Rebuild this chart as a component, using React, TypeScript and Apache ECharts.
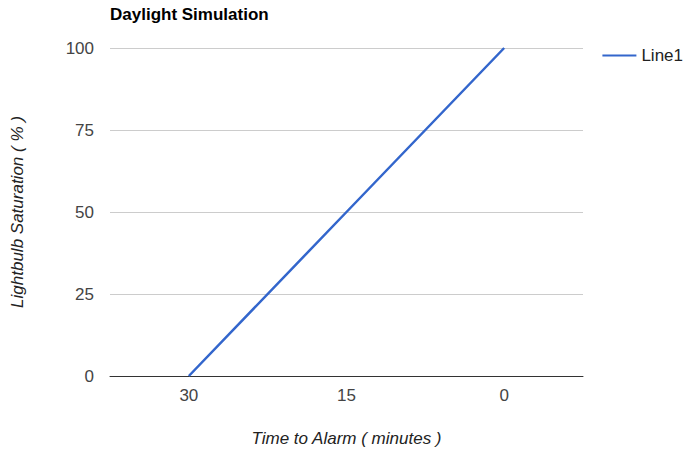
import React, { useEffect, useRef } from "react";
import * as echarts from "echarts";

const categories = ["30", "15", "0"];
const line1 = [0, 50, 100];
const yTicks = [0, 25, 50, 75, 100];

const FONT = "Liberation Sans, Arial, sans-serif";

export default function App() {
  const ref = useRef<HTMLDivElement>(null);
  useEffect(() => {
    const chart = echarts.init(ref.current!, null, { renderer: "svg" });
    chart.setOption({
      animation: false,
      backgroundColor: "#fff",
      textStyle: { fontFamily: FONT },
      title: {
        text: "Daylight Simulation",
        left: 110,
        top: 6,
        padding: 0,
        textStyle: { fontSize: 17, fontWeight: "bold", color: "#000", fontFamily: FONT },
      },
      legend: {
        data: ["Line1"],
        right: 3,
        top: 47,
        padding: 0,
        icon: "rect",
        itemWidth: 34,
        itemHeight: 2,
        itemGap: 6,
        textStyle: { fontSize: 17, color: "#222", fontFamily: FONT, overflow: "none" },
      },
      grid: { left: 110, right: 103, top: 48, bottom: 77 },
      xAxis: {
        type: "category",
        data: categories,
        boundaryGap: true,
        name: "Time to Alarm ( minutes )",
        nameLocation: "middle",
        nameGap: 54,
        nameTextStyle: { fontSize: 17, fontStyle: "italic", color: "#222", fontFamily: FONT },
        axisLine: { lineStyle: { color: "#333", width: 1 } },
        axisTick: { show: false },
        axisLabel: { fontSize: 17, color: "#444", margin: 11, fontFamily: FONT },
      },
      yAxis: {
        type: "value",
        min: yTicks[0],
        max: yTicks[yTicks.length - 1],
        interval: 25,
        name: "Lightbulb Saturation ( % )",
        nameLocation: "middle",
        nameGap: 84,
        nameTextStyle: { fontSize: 17, fontStyle: "italic", color: "#222", fontFamily: FONT },
        axisLine: { show: false },
        axisTick: { show: false },
        axisLabel: { fontSize: 17, color: "#444", margin: 16, fontFamily: FONT },
        splitLine: { lineStyle: { color: "#ccc", width: 1 } },
      },
      series: [
        {
          name: "Line1",
          type: "line",
          data: line1,
          symbol: "none",
          lineStyle: { color: "#3366cc", width: 2.5 },
          itemStyle: { color: "#3366cc" },
        },
      ],
    });
    return () => chart.dispose();
  }, []);
  return <div ref={ref} style={{ position: "absolute", left: 0, top: 0, width: 686, height: 453 }} />;
}
